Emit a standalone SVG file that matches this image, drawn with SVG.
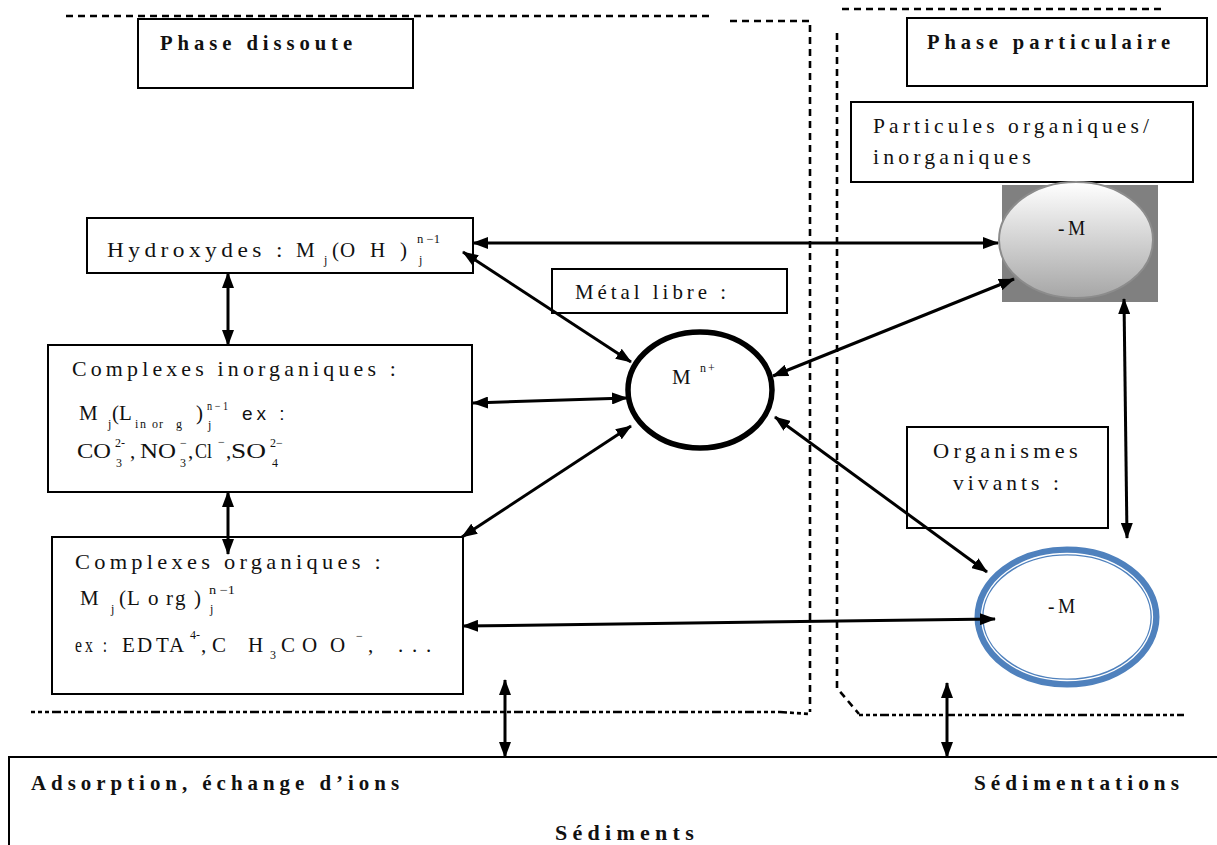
<svg xmlns="http://www.w3.org/2000/svg" width="1217" height="845" viewBox="0 0 1217 845">
  <style>
    .box { fill: #fff; stroke: #000; stroke-width: 2; }
    .t { font-size: 21px; fill: #111; letter-spacing: 4px; }
    .p { font-size: 21px; fill: #111; }
    .b { font-size: 21px; font-weight: bold; fill: #111; letter-spacing: 5px; }
    .s { font-size: 12px; fill: #111; }
    .zone { fill: none; stroke: #000; stroke-width: 2.6; stroke-dasharray: 7 5; }
    .zone2 { fill: none; stroke: #000; stroke-width: 2.6; stroke-dasharray: 4 3 4 3 4 3 9 3; }
    .link { fill: none; stroke: #000; stroke-width: 3; marker-start: url(#ah); marker-end: url(#ah); }
  </style>
  <defs>
    <marker id="ah" viewBox="0 0 16 12" refX="15" refY="6" markerWidth="16" markerHeight="12" orient="auto-start-reverse" markerUnits="userSpaceOnUse">
      <path d="M0,0 L16,6 L0,12 z" fill="#000"/>
    </marker>
    <linearGradient id="grey" x1="0" y1="0" x2="0" y2="1">
      <stop offset="0" stop-color="#ffffff"/>
      <stop offset="1" stop-color="#a6a6a6"/>
    </linearGradient>
  </defs>

  <rect width="1217" height="845" fill="#fff"/>

  <!-- phase boundaries -->
  <g id="zones">
    <line class="zone" x1="66" y1="16" x2="714" y2="16"/>
    <polyline class="zone" points="730,21 810,21 810,712"/>
    <polyline class="zone2" points="31,712 780,712 810,714"/>
    <line class="zone" x1="842" y1="9" x2="1165" y2="9"/>
    <polyline class="zone" points="837,33 837,688 859,714"/>
    <line class="zone2" x1="859" y1="715" x2="1184" y2="715"/>
  </g>

  <g font-family="'Liberation Serif', 'Times New Roman', serif">
  <g id="phase-dissoute">
    <rect class="box" x="138" y="19" width="275" height="69"/>
    <text class="b" x="160" y="50" textLength="197" lengthAdjust="spacingAndGlyphs">Phase dissoute</text>
  </g>

  <g id="phase-particulaire">
    <rect class="box" x="907" y="18" width="300" height="68"/>
    <text class="b" x="927" y="49" textLength="248" lengthAdjust="spacingAndGlyphs">Phase particulaire</text>
  </g>

  <g id="particules">
    <rect class="box" x="851" y="102" width="342" height="80"/>
    <text class="t" x="873" y="133" textLength="280" lengthAdjust="spacingAndGlyphs">Particules organiques/</text>
    <text class="t" x="873" y="164" textLength="162" lengthAdjust="spacingAndGlyphs">inorganiques</text>
  </g>

  <g id="particule-m">
    <rect x="1002" y="185" width="156" height="117" fill="#808080"/>
    <ellipse cx="1076" cy="240" rx="77" ry="58" fill="url(#grey)" stroke="#8c8c8c" stroke-width="2"/>
    <text class="t" x="1058" y="235" textLength="31" lengthAdjust="spacingAndGlyphs">-M</text>
  </g>

  <g id="hydroxydes">
    <rect class="box" x="87" y="218" width="386" height="55"/>
    <text class="t" x="107" y="257" textLength="180" lengthAdjust="spacingAndGlyphs">Hydroxydes :</text>
    <text class="p" x="296" y="257" font-size="22">M</text>
    <text class="s" x="324" y="264">j</text>
    <text class="p" x="332 340 370 400" y="257">(OH)</text>
    <text class="s" x="417" y="243" textLength="23" lengthAdjust="spacingAndGlyphs">n −1</text>
    <text class="s" x="419" y="264">j</text>
  </g>

  <g id="complexes-inorganiques">
    <rect class="box" x="48" y="345" width="424" height="147"/>
    <text class="t" x="72" y="376" textLength="328" lengthAdjust="spacingAndGlyphs">Complexes inorganiques :</text>
    <text class="p" x="79" y="420" font-size="22">M</text>
    <text class="s" x="108" y="428">j</text>
    <text class="p" x="112 119" y="420">(L</text>
    <text class="s" x="135 140 152 159 176" y="428" font-size="13">inorg</text>
    <text class="p" x="196" y="420">)</text>
    <text class="s" x="207" y="410" textLength="21" lengthAdjust="spacingAndGlyphs">n − 1</text>
    <text class="s" x="208" y="429">j</text>
    <text x="242" y="420" font-family="'Liberation Sans', Arial, sans-serif" font-size="19" fill="#111" letter-spacing="4">ex :</text>
    <text class="p" x="77" y="458" textLength="34" lengthAdjust="spacingAndGlyphs">CO</text>
    <text class="s" x="115" y="447">2-</text>
    <text class="s" x="116" y="467">3</text>
    <text class="p" x="130" y="458">,</text>
    <text class="p" x="140" y="458" textLength="36" lengthAdjust="spacingAndGlyphs">NO</text>
    <text class="s" x="180" y="447">−</text>
    <text class="s" x="180" y="467">3</text>
    <text class="p" x="188" y="458">,</text>
    <text class="p" x="195" y="458" textLength="17" lengthAdjust="spacingAndGlyphs">Cl</text>
    <text class="s" x="218" y="446">−</text>
    <text class="p" x="226" y="458">,</text>
    <text class="p" x="231" y="458" textLength="35" lengthAdjust="spacingAndGlyphs">SO</text>
    <text class="s" x="270" y="447">2−</text>
    <text class="s" x="272" y="467">4</text>
  </g>

  <g id="complexes-organiques">
    <rect class="box" x="52" y="537" width="411" height="157"/>
    <text class="t" x="75" y="569" textLength="310" lengthAdjust="spacingAndGlyphs">Complexes organiques :</text>
    <text class="p" x="80" y="605" font-size="22">M</text>
    <text class="s" x="111" y="613">j</text>
    <text class="p" x="119 127 148 166 175 194" y="605">(Lorg)</text>
    <text class="s" x="209" y="594" textLength="26" lengthAdjust="spacingAndGlyphs">n −1</text>
    <text class="s" x="210" y="613">j</text>
    <text class="t" x="75" y="652" textLength="35" lengthAdjust="spacingAndGlyphs">ex :</text>
    <text class="p" x="122 137 156 169" y="652">EDTA</text>
    <text class="s" x="190" y="639">4-</text>
    <text class="p" x="201" y="652">,</text>
    <text class="p" x="212 248" y="652">CH</text>
    <text class="s" x="270" y="659">3</text>
    <text class="p" x="281 302 330" y="652">COO</text>
    <text class="s" x="356" y="640">−</text>
    <text class="p" x="368 398 412 426" y="652">,...</text>
  </g>

  <g id="metal-libre">
    <rect class="box" x="552" y="269" width="235" height="44"/>
    <text class="t" x="575" y="299" textLength="155" lengthAdjust="spacingAndGlyphs">Métal libre :</text>
  </g>

  <g id="metal-ion">
    <ellipse cx="700" cy="390" rx="72" ry="58" fill="#fff" stroke="#000" stroke-width="5.5"/>
    <text class="p" x="672" y="384" font-size="22">M</text>
    <text class="s" x="700" y="372" font-size="13" letter-spacing="2">n+</text>
  </g>

  <g id="organismes-vivants">
    <rect class="box" x="907" y="427" width="201" height="101"/>
    <text class="t" x="933" y="458" textLength="149" lengthAdjust="spacingAndGlyphs">Organismes</text>
    <text class="t" x="953" y="490" textLength="110" lengthAdjust="spacingAndGlyphs">vivants :</text>
  </g>

  <g id="organisme-m">
    <ellipse cx="1067" cy="617" rx="88" ry="66" fill="#fff" stroke="#4f81bd" stroke-width="9"/>
    <ellipse cx="1067" cy="617" rx="85.5" ry="63.5" fill="none" stroke="#fff" stroke-width="1.3"/>
    <text class="t" x="1048" y="613" textLength="31" lengthAdjust="spacingAndGlyphs">-M</text>
  </g>

  <g id="sediments">
    <rect class="box" x="9" y="757" width="1215" height="100"/>
    <text class="b" x="31" y="790" textLength="373" lengthAdjust="spacingAndGlyphs">Adsorption, échange d’ions</text>
    <text class="b" x="974" y="790" textLength="210" lengthAdjust="spacingAndGlyphs">Sédimentations</text>
    <text class="b" x="555" y="840" textLength="144" lengthAdjust="spacingAndGlyphs">Sédiments</text>
  </g>
  </g>

  <!-- connectors, drawn over the boxes -->
  <g id="connectors">
    <line class="link" x1="473" y1="243" x2="998" y2="243"/>
    <line class="link" x1="463" y1="252" x2="631" y2="362"/>
    <line class="link" x1="228" y1="273" x2="228" y2="345"/>
    <line class="link" x1="228" y1="492" x2="228" y2="554"/>
    <line class="link" x1="473" y1="403" x2="627" y2="398"/>
    <line class="link" x1="462" y1="537" x2="631" y2="426"/>
    <line class="link" x1="463" y1="626" x2="995" y2="619"/>
    <line class="link" x1="773" y1="376" x2="1014" y2="279"/>
    <line class="link" x1="775" y1="417" x2="987" y2="572"/>
    <line class="link" x1="1124" y1="299" x2="1127" y2="538"/>
    <line class="link" x1="505" y1="680" x2="505" y2="757"/>
    <line class="link" x1="947" y1="683" x2="947" y2="757"/>
  </g>
</svg>
